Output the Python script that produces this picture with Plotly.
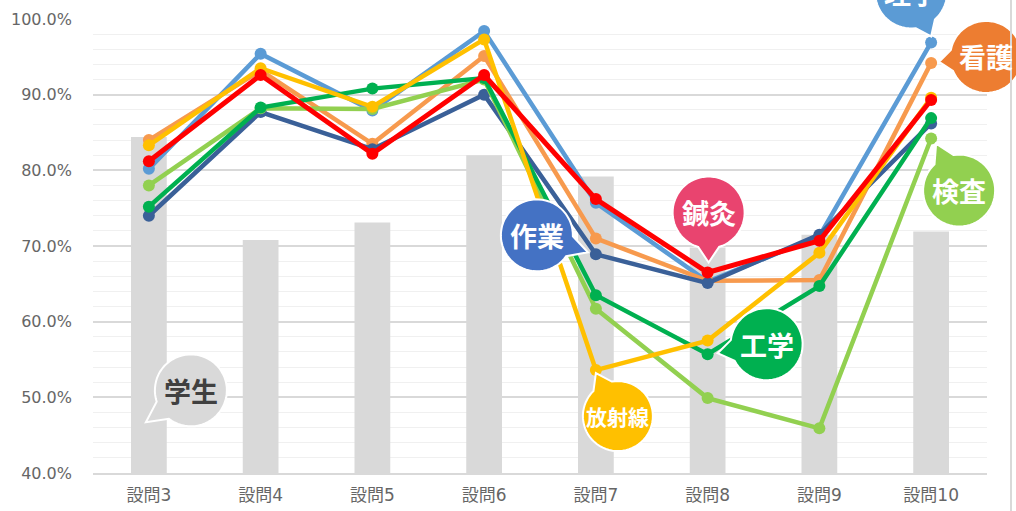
import numpy as np
import plotly.graph_objects as go

# Data (percent)
questions = ["設問3", "設問4", "設問5", "設問6", "設問7", "設問8", "設問9", "設問10"]
student = [84.4, 70.8, 73.1, 82.0, 79.2, 69.8, 71.5, 71.9]
sagyo = [74.0, 87.7, 82.8, 90.0, 68.9, 65.1, 71.5, 86.2]
rigaku = [80.2, 95.4, 87.9, 98.4, 75.7, 65.3, 71.3, 96.9]
kango = [84.0, 93.2, 83.5, 95.1, 71.0, 65.4, 65.5, 94.2]
kensa = [78.0, 88.2, 88.1, 92.0, 61.7, 49.9, 45.9, 84.2]
kogaku = [75.2, 88.3, 90.8, 92.2, 63.5, 55.7, 64.7, 86.9]
hoshasen = [83.3, 93.5, 88.4, 97.3, 53.6, 57.5, 69.1, 89.6]
shinkyu = [81.2, 92.6, 82.2, 92.6, 76.2, 66.5, 70.7, 89.3]

Y_MIN, Y_MAX = 40, 100

fig = go.Figure()

fig.add_trace(go.Bar(x=questions, y=student, marker_color="#D9D9D9",
                     marker_line_width=0, name="学生"))

lines = [
    ("理学", rigaku, "#5B9BD5", 4.5),
    ("看護", kango, "#F79A4E", 4.5),
    ("作業", sagyo, "#3A6098", 4.5),
    ("検査", kensa, "#92D050", 4.5),
    ("工学", kogaku, "#00B050", 4.5),
    ("放射線", hoshasen, "#FFC000", 4.5),
    ("鍼灸", shinkyu, "#FF0000", 5),
]
for name, vals, col, w in lines:
    fig.add_trace(go.Scatter(x=questions, y=vals, mode="lines+markers", name=name,
                             line=dict(color=col, width=w),
                             marker=dict(color=col, size=12)))


def anchor(q, v):
    # paper coords of a category/value pair (bubbles may stick out of the plot area)
    i = questions.index(q)
    return (i + 0.5) / len(questions), (v - Y_MIN) / (Y_MAX - Y_MIN)


def bubble(label, q, v, center, tip, color, size, txtcol="white", r=36):
    ax, ay = anchor(q, v)
    cx, cy = center
    tx, ty = tip
    th = np.arctan2(ty - cy, tx - cx)
    gap = np.radians(17)
    angs = np.linspace(th + gap, th + 2 * np.pi - gap, 60)
    pts = [(cx + r * np.cos(a), cy + r * np.sin(a)) for a in angs] + [(tx, ty)]
    path = "M " + " L ".join(f"{x:.1f},{-y:.1f}" for x, y in pts) + " Z"
    fig.add_shape(type="path", path=path, xref="paper", yref="paper",
                  xsizemode="pixel", ysizemode="pixel", xanchor=ax, yanchor=ay,
                  fillcolor=color, line=dict(color="white", width=2), layer="above")
    fig.add_annotation(x=ax, y=ay, xref="paper", yref="paper", xshift=cx, yshift=-cy,
                       xanchor="center", yanchor="middle",
                       text=f"<b>{label}</b>", showarrow=False,
                       font=dict(size=size, color=txtcol, family="Noto Sans CJK JP"))


bubble("学生", "設問3", 50, (42, -7), (-3, 25), "#D9D9D9", 27, txtcol="#404040")
bubble("作業", "設問7", sagyo[4], (-59, -19), (-8, -2), "#4472C4", 27)
bubble("鍼灸", "設問8", shinkyu[5], (1, -60), (1, -10), "#E9446F", 27)
bubble("工学", "設問8", kogaku[5], (59, -10), (10, -1), "#00B050", 27)
bubble("放射線", "設問7", hoshasen[4], (22, 46), (0, 3), "#FFC000", 21, r=35)
bubble("看護", "設問10", kango[7], (55, -6), (8, -1), "#ED7D31", 27)
bubble("検査", "設問10", kensa[7], (28, 52), (5, 5), "#92D050", 27)
bubble("理学", "設問10", rigaku[7], (-20, -50), (0, -6), "#5B9BD5", 27)

# right frame edge
fig.add_shape(type="line", xref="paper", yref="paper", xsizemode="pixel",
              xanchor=1, x0=24, x1=24, y0=-0.1, y1=1.1,
              line=dict(color="#D9D9D9", width=2))

tick_font = dict(family="DejaVu Sans, Noto Sans CJK JP", size=16, color="#666666")

fig.update_layout(
    width=1016, height=511,
    margin=dict(l=93, r=29, t=19, b=38),
    paper_bgcolor="white", plot_bgcolor="white",
    showlegend=False, bargap=0.68,
    font=dict(family="Noto Sans CJK JP", color="#595959", size=15),
    xaxis=dict(showgrid=False, showline=True, linecolor="#D9D9D9", linewidth=2,
               ticks="", ticklabelstandoff=6, automargin=False,
               tickfont=dict(tick_font, size=17)),
    yaxis=dict(range=[Y_MIN, Y_MAX], dtick=10, tickformat=".1f", ticksuffix="%",
               gridcolor="#D9D9D9", gridwidth=1.5, zeroline=False, automargin=False,
               ticklabelstandoff=20, tickfont=tick_font,
               minor=dict(dtick=2, showgrid=True, gridcolor="#F0F0F0", gridwidth=1)),
)

fig.write_html("out.html", config={"displayModeBar": False},
               post_script="document.body.style.margin='0';")
